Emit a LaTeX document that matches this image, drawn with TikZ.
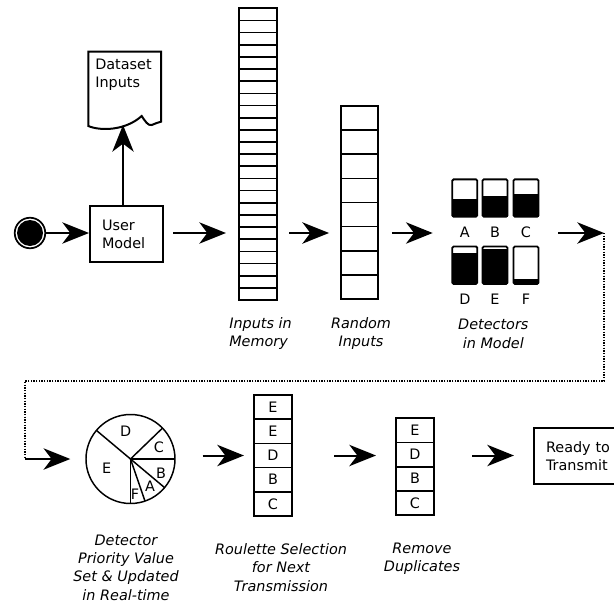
\documentclass[tikz,border=0pt]{standalone}
\usepackage{fontspec}
\setmainfont{DejaVu Sans}
\usetikzlibrary{arrows.meta}
\begin{document}
\begin{tikzpicture}[x=0.75pt,y=-0.75pt,
  every node/.style={font=\fontsize{10.8pt}{13.7pt}\selectfont},
  line/.style={line width=1.5pt},
  cellline/.style={line width=1.3pt},
  arr/.style={line width=1.5pt,-{Stealth[length=20pt,width=16pt,inset=6pt]}},
  box/.style={draw,line width=1.5pt,inner sep=0pt},
  detbox/.style={draw,line width=1.4pt,rounded corners=1pt,inner sep=0pt,
    minimum width=18.75pt,minimum height=28pt},
  caption/.style={font=\fontsize{10.8pt}{13.7pt}\selectfont\itshape,inner sep=0pt},
  letter/.style={inner sep=0pt},
]
\useasboundingbox (0,0) rectangle (614,603);

% start marker
\node (st) [circle,draw,line width=1.3pt,minimum size=22.9pt,inner sep=0pt] at (30,233) {};
\fill (st.center) circle (13);

% user model
\node (um) [box,minimum height=42pt,text width=36.75pt,inner xsep=9pt,align=left]
  at (126.5,234) {User\\Model};

% dataset document
\draw[line] (88.3,51.7) -- (88.3,126)
  .. controls (100,131) and (125,131) .. (141.7,116)
  .. controls (145,121) and (148,126) .. (151.7,125)
  .. controls (155,124) and (158,122) .. (161,121.7)
  -- (161,51.7) -- cycle;
\node (ds) [anchor=west,align=left,inner sep=0pt] at (95,75) {Dataset\\Inputs};
\coordinate (dsb) at (123,125);

% inputs in memory
\node (mem) [box,minimum width=28.3pt,minimum height=218.8pt] at (257.85,154.15) {};
\foreach \i in {1,...,23}
  \draw[cellline] (239,{8.3+\i*12.154}) -- (276.7,{8.3+\i*12.154});
\node [caption,anchor=west,align=left] at (229,333.8) {Inputs in\\Memory};

% random inputs
\node (rin) [box,minimum width=28.2pt,minimum height=144.75pt] at (359.5,202.5) {};
\foreach \i in {1,...,7}
  \draw[cellline] (340.7,{106+\i*24.125}) -- (378.3,{106+\i*24.125});
\node [caption,align=center] at (361,333.8) {Random\\Inputs};

% detectors: filled share of each gauge
\fill (452.3,199.3) rectangle (477.3,216.7);
\fill (482.5,195.7) rectangle (507.5,216.7);
\fill (513.5,194) rectangle (538.5,216.7);
\fill (452.3,252.7) rectangle (477.3,284.3);
\fill (482.5,249.3) rectangle (507.5,284.3);
\fill (513.5,279.3) rectangle (538.5,284.3);
\node (dA) [detbox] at (464.8,198) {};
\node (dB) [detbox] at (495,198) {};
\node (dC) [detbox] at (526,198) {};
\node (dD) [detbox] at (464.8,265.2) {};
\node (dE) [detbox] at (495,265.2) {};
\node (dF) [detbox] at (526,265.2) {};
\node [letter] at (464.8,232) {A};
\node [letter] at (495,232) {B};
\node [letter] at (526,232) {C};
\node [letter] at (464.8,299) {D};
\node [letter] at (495,299) {E};
\node [letter] at (526,299) {F};
\node (det) [inner sep=0pt,minimum width=64.5pt,minimum height=78.75pt] at (495.3,232.5) {};
\node [caption,align=center] at (493.3,333.8) {Detectors\\in Model};

% loop back to the second row
\coordinate (cr) at (604,233);
\coordinate (cl) at (25,381);
\coordinate (pin) at (25,459);

% priority pie
\node (pie) [circle,draw,line width=1.1pt,minimum size=66.75pt,inner sep=0pt] at (130.5,459) {};
\foreach \a in {-140,-44,0,40,71,90}
  \draw[line width=1.1pt] (pie.center) -- ++(\a:44.5);
\node [letter] at (125.7,431.7) {D};
\node [letter] at (159,447.7) {C};
\node [letter] at (161,473.3) {B};
\node [letter] at (150,486) {A};
\node [letter] at (135,494.3) {F};
\node [letter] at (106.7,468.3) {E};
\node [caption,align=center] at (126,567.5)
  {Detector\\Priority Value\\Set \& Updated\\in Real-time};

% roulette selection
\node (rou) [box,minimum width=28.05pt,minimum height=90.75pt] at (273,455.5) {};
\foreach \i in {1,...,4}
  \draw[cellline] (254.3,{395+\i*24.2}) -- (291.7,{395+\i*24.2});
\foreach \l [count=\i] in {E,E,D,B,C}
  \node [letter] at (273,{395+24.2*(\i-0.5)}) {\l};
\node [caption,align=center] at (281,567.5)
  {Roulette Selection\\for Next\\Transmission};

% duplicates removed
\node (rem) [box,minimum width=28.5pt,minimum height=72.5pt] at (415,466.65) {};
\foreach \i in {1,...,3}
  \draw[cellline] (396,{418.3+\i*24.175}) -- (434,{418.3+\i*24.175});
\foreach \l [count=\i] in {E,D,B,C}
  \node [letter] at (415,{418.3+24.175*(\i-0.5)}) {\l};
\node [caption,align=center] at (422,559) {Remove\\Duplicates};

% ready to transmit
\node (rdy) [box,anchor=west,minimum height=42.45pt,text width=48.5pt,inner xsep=8.8pt,align=left]
  at (533.3,456) {Ready to\\Transmit};

% connectors
\draw[arr] (st.east) -- (st.east -| um.west);
\draw[arr] (dsb |- um.north) -- (dsb);
\draw[arr,shorten <=6.75pt,shorten >=9pt] (st -| um.east) -- (st -| mem.west);
\draw[arr,shorten <=8.5pt,shorten >=8pt] (st -| mem.east) -- (st -| rin.west);
\draw[arr,shorten <=9.5pt,shorten >=14.5pt] (st -| rin.east) -- (st -| det.west);
\draw[arr,shorten <=14.8pt] (st -| det.east) -- (cr);
\draw[densely dotted,line width=1pt] (cr) |- (cl) -- (pin);
\draw[arr,shorten >=11.25pt] (pin) -- (pin -| pie.west);
\draw[arr,shorten <=20.25pt,shorten >=7pt] (rou.west -| pie.east) -- (rou.west);
\draw[arr,shorten <=31pt,shorten >=14.25pt] (rou.east) -- (rou.east -| rem.west);
\draw[arr,shorten <=27.75pt,shorten >=14.5pt] (rou.east -| rem.east) -- (rou.east -| rdy.west);
\end{tikzpicture}
\end{document}
